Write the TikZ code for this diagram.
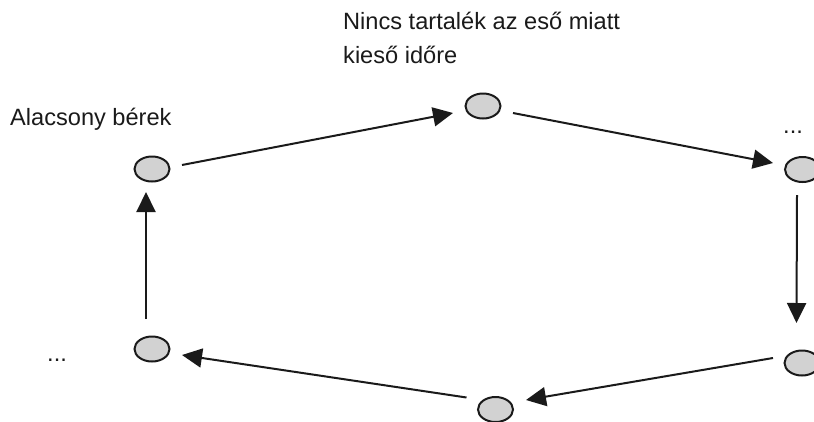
\documentclass[tikz,border=0pt]{standalone}
\usepackage{fontspec}
\setmainfont{Liberation Sans}
\usetikzlibrary{shapes.geometric,arrows.meta}
\definecolor{bubblefill}{RGB}{210,210,210}
\definecolor{inkline}{RGB}{26,26,26}
\tikzset{
  bubble/.style={ellipse, draw=inkline, fill=bubblefill, line width=2pt,
    minimum width=35pt, minimum height=25pt, inner sep=0pt},
  flow/.style={draw=inkline, line width=2pt,
    -{Triangle[length=20pt,width=19pt]}},
  caption/.style={anchor=base west, inner sep=0pt, text=inkline,
    font=\fontsize{23.6}{30}\selectfont}
}
\begin{document}
\begin{tikzpicture}[x=1pt,y=-1pt]
  \useasboundingbox (0,0) rectangle (814,421);

  % the six stages of the cycle
  \node[bubble] (e1) at (152,169) {};
  \node[bubble] (e2) at (483,106) {};
  \node[bubble] (e3) at (802.5,169.5) {};
  \node[bubble] (e4) at (802,363) {};
  \node[bubble] (e5) at (495.5,409.5) {};
  \node[bubble] (e6) at (152,349) {};

  % labels
  \node[caption] (t1) at (343,29) {Nincs tartalék az eső miatt};
  \node[caption] (t2) at (343,63) {kieső időre};
  \node[caption] (t3) at (10,125) {Alacsony bérek};
  \node[caption] (t4) at (783,133) {...};
  \node[caption] (t5) at (47,361) {...};

  % arrows around the cycle
  \draw[flow] ([shift={(30,-4)}]e1.center) -- ([shift={(-30,7)}]e2.center);
  \draw[flow] ([shift={(30,7)}]e2.center) -- ([shift={(-29.5,-6.5)}]e3.center);
  \draw[flow] ([shift={(-5.5,25.5)}]e3.center) -- ([shift={(-5.5,-40)}]e4.center);
  \draw[flow] ([shift={(-29,-5)}]e4.center) -- ([shift={(30.5,-9.5)}]e5.center);
  \draw[flow] ([shift={(-29,-12)}]e5.center) -- ([shift={(30,6)}]e6.center);
  \draw[flow] ([shift={(-6,-30)}]e6.center) -- ([shift={(-6,23)}]e1.center);
\end{tikzpicture}
\end{document}
